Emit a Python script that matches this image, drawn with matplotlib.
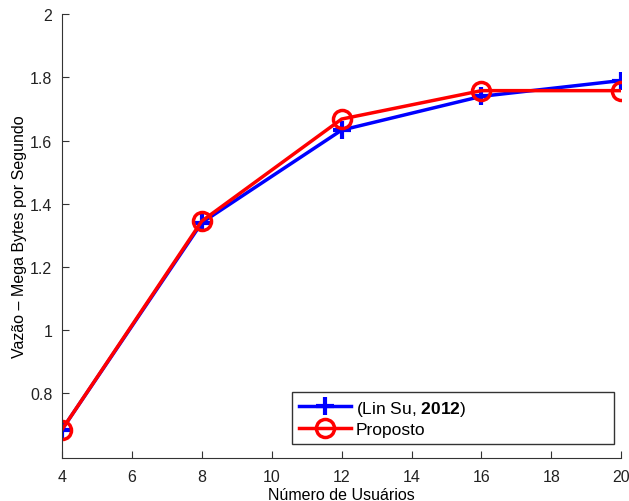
import matplotlib
matplotlib.use("Agg")
import matplotlib.pyplot as plt

users = [4, 8, 12, 16, 20]
lin_su = [0.685, 1.34, 1.633, 1.74, 1.79]
proposto = [0.685, 1.345, 1.668, 1.758, 1.758]
xticks = [4, 6, 8, 10, 12, 14, 16, 18, 20]
yticks = [0.8, 1.0, 1.2, 1.4, 1.6, 1.8, 2.0]
ytick_labels = ["0.8", "1", "1.2", "1.4", "1.6", "1.8", "2"]

plt.rcParams['font.family'] = ['Liberation Sans', 'DejaVu Sans']
plt.rcParams['mathtext.fontset'] = 'custom'
plt.rcParams['mathtext.rm'] = 'Liberation Sans'
plt.rcParams['mathtext.bf'] = 'Liberation Sans:bold'
fig = plt.figure(figsize=(6.29, 5.02), dpi=100)
ax = fig.add_axes([0.0986, 0.0857, 0.889, 0.884])

ax.plot(users, lin_su, color='#0000ff', lw=2.5, marker='+', ms=13, mew=3,
        label=r'(Lin Su, $\mathbf{2012}$)')
ax.plot(users, proposto, color='#ff0000', lw=2.5, marker='o', ms=13, mew=2.5,
        mfc='none', label='Proposto')

ax.set_xlim(4, 20)
ax.set_ylim(0.595, 2.0)
ax.set_xticks(xticks)
ax.set_yticks(yticks)
ax.set_yticklabels(ytick_labels)
ax.tick_params(direction='in', length=5, labelsize=11.5, colors='#333333',
               labelcolor='#222222')
ax.tick_params(axis='x', pad=8)
ax.tick_params(axis='y', pad=7)
for s in ['top', 'right']:
    ax.spines[s].set_visible(False)
for s in ['left', 'bottom']:
    ax.spines[s].set_color('#333333')

ax.set_xlabel('Número de Usuários', fontsize=11.5, labelpad=2)
ax.set_ylabel('Vazão – Mega Bytes por Segundo', fontsize=11.5, labelpad=2)

leg = ax.legend(loc='lower left', bbox_to_anchor=(0.411, 0.0315, 0.576, 0.122),
                mode='expand', fontsize=12.5,
                fancybox=False, framealpha=1, edgecolor='#333333',
                handlelength=3.0, handletextpad=0.3, borderpad=0.4,
                labelspacing=0.25, borderaxespad=0)
leg.get_frame().set_linewidth(1.0)

fig.savefig('out.png', dpi=100)
